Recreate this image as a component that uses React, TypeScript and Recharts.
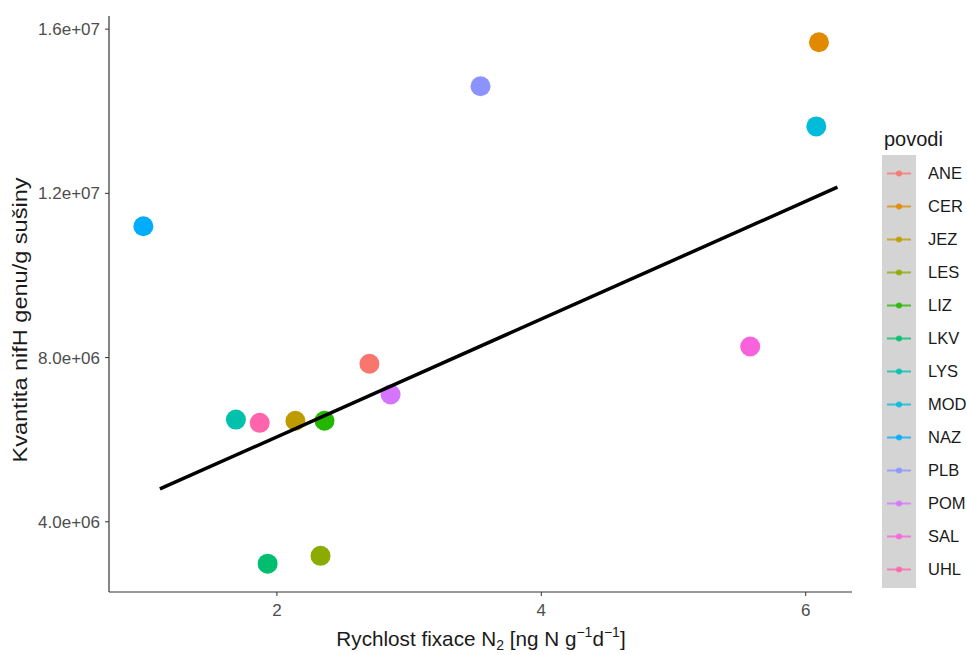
import { ScatterChart, Scatter, XAxis, YAxis, Legend } from 'recharts'

const POVODI = ['ANE', 'CER', 'JEZ', 'LES', 'LIZ', 'LKV', 'LYS', 'MOD', 'NAZ', 'PLB', 'POM', 'SAL', 'UHL']
const FIXACE = [2.7, 6.1, 2.14, 2.33, 2.36, 1.93, 1.69, 6.08, 0.99, 3.54, 2.86, 5.58, 1.87]
const NIFH = [7.85e6, 15.68e6, 6.46e6, 3.17e6, 6.46e6, 2.98e6, 6.49e6, 13.63e6, 11.2e6, 14.61e6, 7.1e6, 8.27e6, 6.41e6]
const COLORS = ['#F8766D', '#E18A00', '#BE9C00', '#8CAB00', '#24B700', '#00BE70', '#00C1AB', '#00BBDA', '#00ACFC', '#8B93FF', '#D575FE', '#F962DD', '#FF65AC']

// regression line end points
const TREND_X = [1.115, 6.24]
const TREND_Y = [4.8e6, 12.15e6]

const X_TICKS = [2, 4, 6]
const Y_TICKS = [4e6, 8e6, 1.2e7, 1.6e7]

const FONT = '"Liberation Sans", Arial, sans-serif'

const series = POVODI.map((name, i) => ({ name, color: COLORS[i], data: [{ x: FIXACE[i], y: NIFH[i] }] }))
const trend = TREND_X.map((x, i) => ({ x, y: TREND_Y[i] }))

function sci(v: number) {
  const [m, e] = v.toExponential(1).split('e')
  const sign = e[0] === '-' ? '-' : '+'
  const digits = e.replace(/[+-]/, '').padStart(2, '0')
  return `${m}e${sign}${digits}`
}

function LegendBox(props: any) {
  const items = (props.payload || []).filter((p: any) => p.type !== 'none')
  return (
    <div style={{ fontFamily: FONT, color: '#1a1a1a', textAlign: 'left' }}>
      <div style={{ fontSize: 20, lineHeight: '22px', marginBottom: 5, marginLeft: 2 }}>povodi</div>
      <div style={{ display: 'flex' }}>
        <div style={{ width: 34, background: '#D4D4D4', padding: '2px 0' }}>
          {items.map((it: any) => (
            <svg key={it.value} width={34} height={33} style={{ display: 'block' }}>
              <line x1={5} x2={29} y1={16.5} y2={16.5} stroke={it.color} strokeWidth={2} opacity={0.75} />
              <circle cx={17} cy={16.5} r={3} fill={it.color} opacity={0.85} />
            </svg>
          ))}
        </div>
        <div style={{ padding: '2px 0 0 12px' }}>
          {items.map((it: any) => (
            <div key={it.value} style={{ height: 33, lineHeight: '33px', fontSize: 16.5 }}>{it.value}</div>
          ))}
        </div>
      </div>
    </div>
  )
}

export default function App() {
  return (
    <div style={{ position: 'absolute', left: 0, top: 0, background: '#fff' }}>
      <ScatterChart width={967} height={655} margin={{ top: 16, right: 115, left: 0, bottom: 0 }}>
        <XAxis
          type="number" dataKey="x" domain={[0.73, 6.35]} ticks={X_TICKS} allowDataOverflow
          height={63} axisLine={{ stroke: '#333', strokeWidth: 1.2 }} tickLine={{ stroke: '#333' }}
          tickSize={4} tickMargin={8} tick={{ fill: '#4D4D4D', fontSize: 17, fontFamily: FONT }}
          label={{
            content: () => (
              <text x={481} y={646} textAnchor="middle" fill="#1a1a1a" fontSize={20.7} fontFamily={FONT}>
                Rychlost fixace N<tspan dy={4} fontSize={14}>2</tspan>
                <tspan dy={-4}> [ng N g</tspan>
                <tspan dy={-9} fontSize={14}>−1</tspan>
                <tspan dy={9}>d</tspan>
                <tspan dy={-9} fontSize={14}>−1</tspan>
                <tspan dy={9}>]</tspan>
              </text>
            ),
          }}
        />
        <YAxis
          type="number" dataKey="y" domain={[2.29e6, 1.632e7]} ticks={Y_TICKS} allowDataOverflow
          width={109} axisLine={{ stroke: '#333', strokeWidth: 1.2 }} tickLine={{ stroke: '#333' }}
          tickSize={4} tickMargin={5} tickFormatter={sci}
          tick={{ fill: '#4D4D4D', fontSize: 17, fontFamily: FONT }}
          label={{
            content: () => (
              <text x={20} y={320} transform="rotate(-90 20 320)" textAnchor="middle" dominantBaseline="central"
                fill="#1a1a1a" fontSize={20} fontFamily={FONT} textLength={285} lengthAdjust="spacingAndGlyphs">
                Kvantita nifH genu/g sušiny
              </text>
            ),
          }}
        />
        <Legend
          layout="vertical" align="center" verticalAlign="middle" content={<LegendBox />}
          wrapperStyle={{ left: 882, top: 128, width: 85 }}
        />
        {series.map(s => (
          <Scatter
            key={s.name} name={s.name} data={s.data} fill={s.color} isAnimationActive={false}
            shape={(p: any) => <circle cx={p.cx} cy={p.cy} r={10} fill={s.color} />}
          />
        ))}
        <Scatter
          name="trend" data={trend} legendType="none" isAnimationActive={false}
          line={{ stroke: '#000', strokeWidth: 3.5 }} shape={() => <g />}
        />
      </ScatterChart>
    </div>
  )
}
